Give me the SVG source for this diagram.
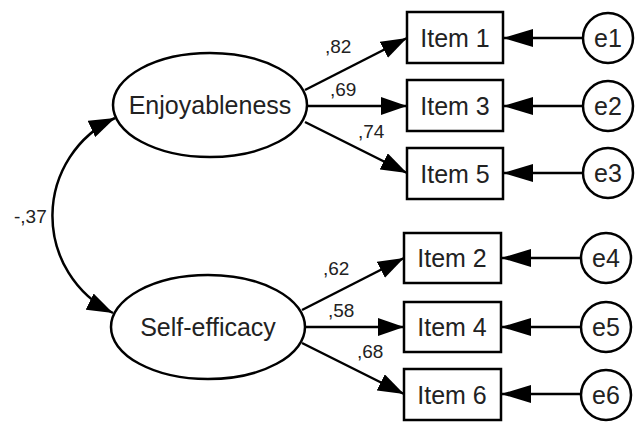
<svg xmlns="http://www.w3.org/2000/svg" width="638" height="423" viewBox="0 0 638 423">
<style>
.shape{fill:#fff;stroke:#000;stroke-width:2.5}
.edge{fill:none;stroke:#000;stroke-width:2.5}
.t{font-family:"Liberation Sans",Arial,sans-serif;font-size:25px;fill:#222;text-anchor:middle;dominant-baseline:central}
.lbl{font-family:"Liberation Sans",Arial,sans-serif;font-size:19px;fill:#222}
</style>
<defs>
<marker id="ah" markerUnits="userSpaceOnUse" markerWidth="28" markerHeight="18" refX="26" refY="9" orient="auto-start-reverse">
<path d="M0,0 L26,9 L0,18 z" fill="#000"/>
</marker>
<marker id="ahe" markerUnits="userSpaceOnUse" markerWidth="32" markerHeight="18" refX="30" refY="9" orient="auto">
<path d="M0,0 L30,9 L0,18 z" fill="#000"/>
</marker>
</defs>
<g id="connectors">
<path class="edge" d="M115,118 A108,108 0 0 0 113,313" marker-start="url(#ah)" marker-end="url(#ah)"/>
<line class="edge" x1="305" y1="90" x2="407" y2="38" marker-end="url(#ah)"/>
<line class="edge" x1="307" y1="106" x2="407" y2="106" marker-end="url(#ah)"/>
<line class="edge" x1="305" y1="122" x2="407" y2="173" marker-end="url(#ah)"/>
<line class="edge" x1="302" y1="310" x2="404" y2="258" marker-end="url(#ah)"/>
<line class="edge" x1="305" y1="327" x2="404" y2="327" marker-end="url(#ah)"/>
<line class="edge" x1="302" y1="343" x2="404" y2="394" marker-end="url(#ah)"/>
<line class="edge" x1="583" y1="38" x2="503" y2="38" marker-end="url(#ahe)"/>
<line class="edge" x1="583" y1="106" x2="503" y2="106" marker-end="url(#ahe)"/>
<line class="edge" x1="583" y1="173" x2="503" y2="173" marker-end="url(#ahe)"/>
<line class="edge" x1="581" y1="258" x2="501" y2="258" marker-end="url(#ahe)"/>
<line class="edge" x1="581" y1="327" x2="501" y2="327" marker-end="url(#ahe)"/>
<line class="edge" x1="581" y1="394" x2="501" y2="394" marker-end="url(#ahe)"/>
<text class="lbl" x="325" y="53">,82</text>
<text class="lbl" x="330" y="96">,69</text>
<text class="lbl" x="358" y="138">,74</text>
<text class="lbl" x="323" y="275">,62</text>
<text class="lbl" x="328" y="317">,58</text>
<text class="lbl" x="357" y="358">,68</text>
<text class="lbl" x="14" y="223">-,37</text>
</g>
<g id="enjoyableness"><ellipse class="shape" cx="210" cy="105" rx="97" ry="52"/><text class="t" x="210" y="105">Enjoyableness</text></g>
<g id="selfefficacy"><ellipse class="shape" cx="208" cy="327" rx="97" ry="52"/><text class="t" x="208" y="327">Self-efficacy</text></g>
<g id="item1"><rect class="shape" x="407" y="12" width="96" height="51"/><text class="t" x="455" y="38">Item 1</text></g>
<g id="item3"><rect class="shape" x="407" y="80" width="96" height="51"/><text class="t" x="455" y="106">Item 3</text></g>
<g id="item5"><rect class="shape" x="407" y="148" width="96" height="51"/><text class="t" x="455" y="174">Item 5</text></g>
<g id="item2"><rect class="shape" x="404" y="233" width="97" height="50"/><text class="t" x="452" y="258">Item 2</text></g>
<g id="item4"><rect class="shape" x="404" y="302" width="97" height="50"/><text class="t" x="452" y="327">Item 4</text></g>
<g id="item6"><rect class="shape" x="404" y="369" width="97" height="51"/><text class="t" x="452" y="395">Item 6</text></g>
<g id="e1"><circle class="shape" cx="608" cy="38" r="25"/><text class="t" x="608" y="38">e1</text></g>
<g id="e2"><circle class="shape" cx="608" cy="106" r="25"/><text class="t" x="608" y="106">e2</text></g>
<g id="e3"><circle class="shape" cx="608" cy="173" r="25"/><text class="t" x="608" y="173">e3</text></g>
<g id="e4"><circle class="shape" cx="606" cy="258" r="25"/><text class="t" x="606" y="258">e4</text></g>
<g id="e5"><circle class="shape" cx="606" cy="327" r="25"/><text class="t" x="606" y="327">e5</text></g>
<g id="e6"><circle class="shape" cx="606" cy="395" r="25"/><text class="t" x="606" y="395">e6</text></g>
</svg>
